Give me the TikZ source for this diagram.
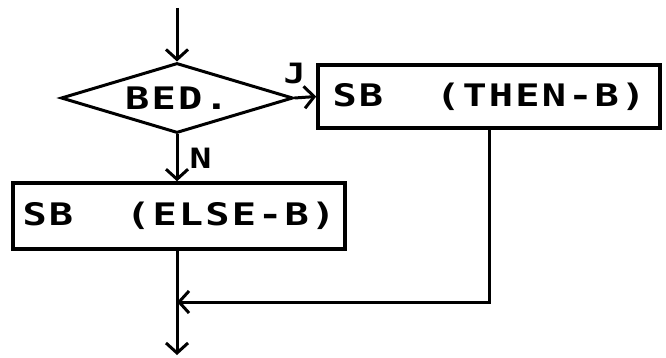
\documentclass[tikz,border=0pt]{standalone}
\usepackage{fontspec}
\newfontfamily\dotfont{DejaVu Sans Mono}[FakeStretch=1.3,LetterSpace=7]
\usetikzlibrary{shapes.geometric,arrows.meta}

\begin{document}
\begin{tikzpicture}[x=1pt,y=-1pt,
    line width=3pt,
    arr/.style={-{Straight Barb[length=10pt,width=22pt,line width=3pt]}},
    blockbox/.style={draw,line width=3.5pt,inner sep=0pt,
      font=\dotfont\bfseries\fontsize{31}{31}\selectfont},
    cond/.style={draw,diamond,aspect=3.2,inner sep=0pt,line width=3pt,
      minimum width=232pt,minimum height=70pt,
      font=\dotfont\bfseries\fontsize{31}{31}\selectfont},
    lbl/.style={inner sep=0pt,font=\dotfont\bfseries\fontsize{28}{28}\selectfont}]

    \useasboundingbox (0,0) rectangle (666,358);

    % decision and the two blocks
    \node[cond] (bed) at (177,98) {BED.};
    \node[blockbox,minimum width=342pt,minimum height=63pt] (then) at (489,96.5) {SB\ \ (THEN-B)};
    \node[blockbox,minimum width=332pt,minimum height=66pt] (else) at (179,216) {SB\ \ (ELSE-B)};

    % free ends
    \coordinate (start) at (177,8);
    \coordinate (merge) at (177,302);
    \coordinate (exit) at (177,355);

    % connectors
    \draw[arr] (start) -- (bed.north);
    \draw[arr] (bed.east) -- node[lbl,pos=0,above=13pt] {J} (then.west);
    \draw[arr] (bed.south) -- node[lbl,midway,right=11pt] {N} (else.north -| bed.south);
    \draw (else.south -| merge) -- (merge);
    \draw[arr] (then.south) |- (merge);
    \draw[arr] (merge) -- (exit);

\end{tikzpicture}
\end{document}
